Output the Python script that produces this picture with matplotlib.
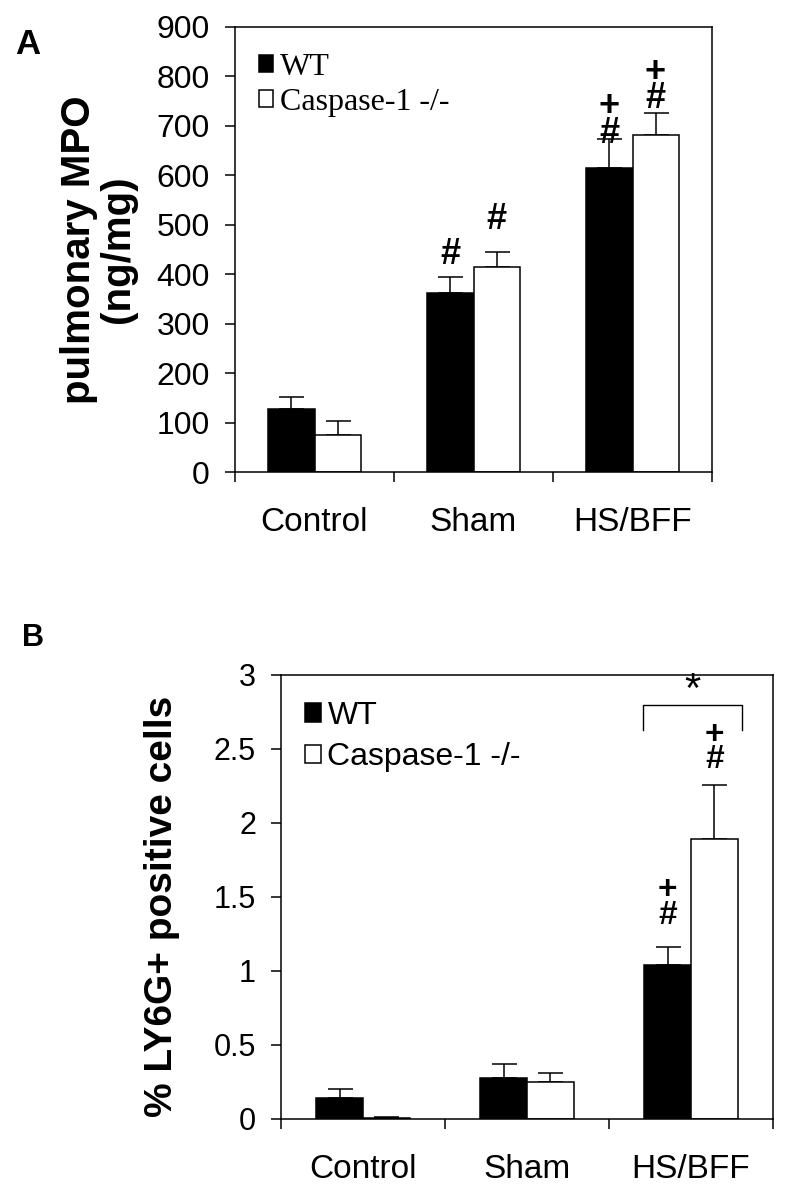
import numpy as np
import matplotlib
matplotlib.use('Agg')
import matplotlib.pyplot as plt

groups = ['Control', 'Sham', 'HS/BFF']
series = ['WT', 'Caspase-1 -/-']

# panel A: pulmonary MPO (ng/mg)
mpo_wt = [127, 362, 615]
mpo_wt_err = [25, 33, 59]
mpo_ko = [75, 415, 682]
mpo_ko_err = [28, 30, 45]

# panel B: % LY6G+ positive cells
ly_wt = [0.14, 0.28, 1.04]
ly_wt_err = [0.06, 0.09, 0.12]
ly_ko = [0.01, 0.25, 1.89]
ly_ko_err = [0.005, 0.06, 0.37]

plt.rcParams['font.family'] = ['Liberation Sans', 'DejaVu Sans']

fig = plt.figure(figsize=(7.88, 11.92), dpi=100)
axA = fig.add_axes([235/788, 1-472/1192, 477/788, 445/1192])
axB = fig.add_axes([281/788, 1-1119/1192, 492/788, 444/1192])

x = np.arange(len(groups))


def draw_bars(ax, wt, wt_err, ko, ko_err, w, cap):
    ax.bar(x - w/2, wt, w, color='black', edgecolor='black', lw=1.1, label=series[0], zorder=2)
    ax.bar(x + w/2, ko, w, color='white', edgecolor='black', lw=1.1, label=series[1], zorder=2)
    ax.errorbar(x - w/2, wt, yerr=[np.zeros(3), wt_err], fmt='none', ecolor='black',
                elinewidth=1.1, capsize=cap, capthick=1.1, zorder=1)
    ax.errorbar(x + w/2, ko, yerr=[np.zeros(3), ko_err], fmt='none', ecolor='black',
                elinewidth=1.1, capsize=cap, capthick=1.1, zorder=1)
    ax.set_xlim(-0.5, 2.5)
    ax.set_xticks([-0.5, 0.5, 1.5, 2.5])
    ax.set_xticklabels([])
    ax.set_xticks(x, minor=True)
    ax.set_xticklabels(groups, minor=True, fontsize=24)
    ax.tick_params(axis='x', which='minor', length=0, pad=25)
    ax.tick_params(axis='x', which='major', direction='out', length=7, width=1.1)
    ax.tick_params(axis='y', direction='out', length=7, width=1.1)
    for s in ax.spines.values():
        s.set_linewidth(1.1)


# ---- panel A
wA = 0.29
draw_bars(axA, mpo_wt, mpo_wt_err, mpo_ko, mpo_ko_err, wA, 9)
axA.set_ylim(0, 900)
axA.set_yticks(range(0, 901, 100))
axA.tick_params(axis='y', labelsize=23, pad=11)
axA.set_ylabel('pulmonary MPO\n(ng/mg)', fontsize=29, fontweight='bold', linespacing=1.05)
axA.yaxis.set_label_coords(-0.205, 0.5)
axA.legend(loc='upper left', bbox_to_anchor=(0.01, 0.985), frameon=False,
           prop={'family': 'Liberation Serif', 'size': 23},
           handlelength=0.45, handleheight=0.45, handletextpad=0.2, labelspacing=0.2,
           borderaxespad=0.2)

mk = dict(ha='center', va='center', fontsize=26, fontweight='bold', linespacing=0.68)
axA.text(1 - wA/2, 439, '#', **mk)
axA.text(1 + wA/2, 510, '#', **mk)
axA.text(2 - wA/2, 712, '+\n#', **mk)
axA.text(2 + wA/2, 782, '+\n#', **mk)

# ---- panel B
wB = 0.285
draw_bars(axB, ly_wt, ly_wt_err, ly_ko, ly_ko_err, wB, 9)
axB.set_ylim(0, 3)
axB.set_yticks([0, 0.5, 1, 1.5, 2, 2.5, 3])
axB.set_yticklabels(['0', '0.5', '1', '1.5', '2', '2.5', '3'])
axB.tick_params(axis='y', labelsize=22, pad=11)
axB.set_ylabel('% LY6G+ positive cells', fontsize=28, fontweight='bold')
axB.yaxis.set_label_coords(-0.205, 0.48)
axB.legend(loc='upper left', bbox_to_anchor=(0.01, 0.985), frameon=False,
           prop={'size': 23},
           handlelength=0.5, handleheight=0.5, handletextpad=0.2, labelspacing=0.35,
           borderaxespad=0.2)

mkB = dict(ha='center', va='center', fontsize=24, fontweight='bold', linespacing=0.72)
axB.text(2 - wB/2, 1.46, '+\n#', **mkB)
axB.text(2 + wB/2, 2.51, '+\n#', **mkB)
# significance bracket
bx0, bx1 = 2 - 0.29, 2 + 0.31
axB.plot([bx0, bx0, bx1, bx1], [2.63, 2.80, 2.80, 2.63], color='black', lw=1.0)
axB.text((bx0 + bx1) / 2, 2.89, '*', ha='center', va='center', fontsize=30)

fig.text(15/788, 1-44/1192, 'A', fontsize=25, fontweight='bold', va='center', ha='left')
fig.text(22/788, 1-638/1192, 'B', fontsize=22, fontweight='bold', va='center', ha='left')

fig.savefig('out.png', dpi=100)
